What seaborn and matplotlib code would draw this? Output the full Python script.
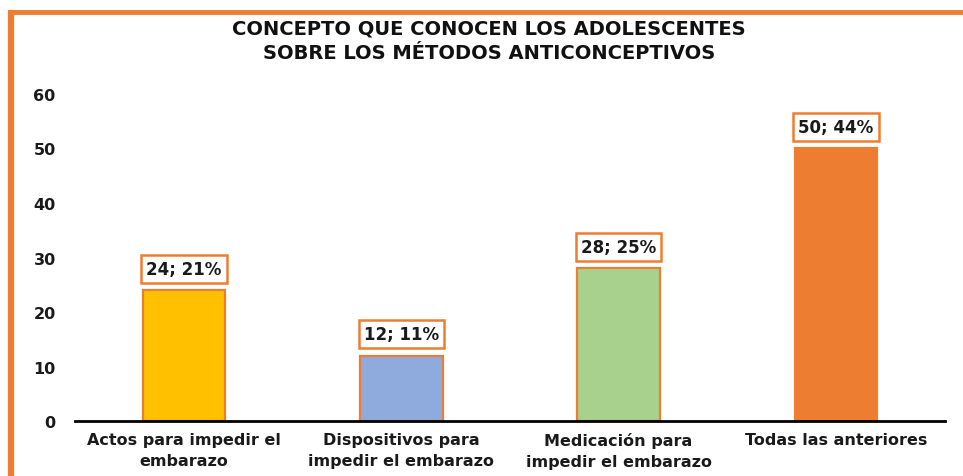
import matplotlib
matplotlib.use("Agg")
import matplotlib.pyplot as plt
import seaborn as sns
import pandas as pd
from matplotlib.lines import Line2D

# ==================================================
# DATA
# ==================================================

categorias = [
    "Actos para impedir el\nembarazo",
    "Dispositivos para\nimpedir el embarazo",
    "Medicación para\nimpedir el embarazo",
    "Todas las anteriores",
]
valores = [24, 12, 28, 50]
porcentajes = [21, 11, 25, 44]
colores = ["#FFC000", "#8FAADC", "#A9D18E", "#ED7D31"]
yticks = [0, 10, 20, 30, 40, 50, 60]

titulo = "CONCEPTO QUE CONOCEN LOS ADOLESCENTES\nSOBRE LOS MÉTODOS ANTICONCEPTIVOS"

naranja = "#ED7D31"

df = pd.DataFrame({"Categoria": categorias, "Valor": valores})

# ==================================================
# PLOT
# ==================================================

sns.set_style("white")
plt.rcParams["font.family"] = ["DejaVu Sans"]

fig = plt.figure(figsize=(9.63, 4.77), dpi=100)
ax = fig.add_axes([0.078, 0.115, 0.903, 0.686])

sns.barplot(
    data=df,
    x="Categoria",
    y="Valor",
    hue="Categoria",
    palette=colores,
    saturation=1,
    legend=False,
    width=0.38,
    edgecolor=naranja,
    linewidth=1.6,
    ax=ax,
)

ax.set_ylim(0, 60)
ax.set_yticks(yticks)
ax.set_xlim(-0.5, 3.5)
ax.set_xlabel("")
ax.set_ylabel("")

for s in ["top", "right", "left"]:
    ax.spines[s].set_visible(False)
ax.spines["bottom"].set_color("black")
ax.spines["bottom"].set_linewidth(2)

ax.tick_params(axis="y", length=0, pad=14, labelsize=11.5)
ax.tick_params(axis="x", length=0, pad=8, labelsize=11.5)
for lbl in ax.get_yticklabels() + ax.get_xticklabels():
    lbl.set_fontweight("bold")
    lbl.set_color("#1a1a1a")
for lbl in ax.get_xticklabels():
    lbl.set_linespacing(1.45)

# data labels
for i, (v, p) in enumerate(zip(valores, porcentajes)):
    ax.annotate(
        f"{v}; {p}%",
        xy=(i, v),
        xytext=(0, 15.5),
        textcoords="offset points",
        ha="center",
        va="center",
        fontsize=12,
        fontweight="bold",
        color="#1a1a1a",
        bbox=dict(boxstyle="square,pad=0.3", fc="white", ec=naranja, lw=1.8),
    )

fig.text(
    0.508, 0.913, titulo,
    ha="center", va="center",
    fontsize=14, fontweight="bold",
    linespacing=1.35, color="#111111",
)

# orange frame (top and left)
fig.add_artist(Line2D([0.0115, 1.0], [0.973, 0.973], transform=fig.transFigure,
                      color=naranja, lw=3.5, solid_capstyle="butt"))
fig.add_artist(Line2D([0.0115, 0.0115], [0.0, 0.976], transform=fig.transFigure,
                      color=naranja, lw=4.5, solid_capstyle="butt"))

plt.savefig("out.png", dpi=100)
